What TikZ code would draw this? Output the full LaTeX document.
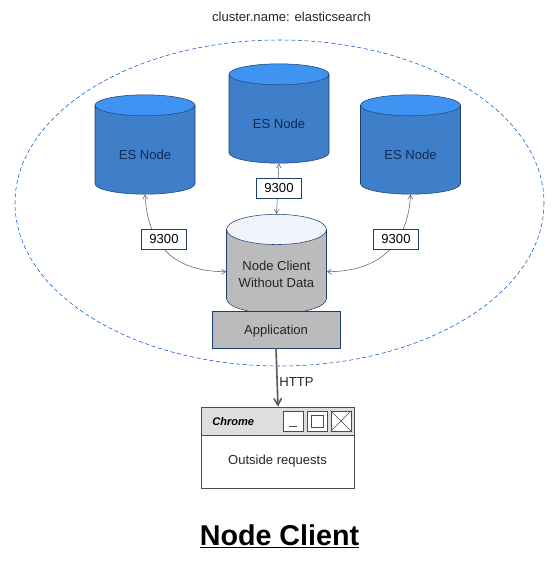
\documentclass[tikz,border=0pt]{standalone}
\usepackage{fontspec}
\setmainfont{Liberation Sans}
\usetikzlibrary{arrows}
\usetikzlibrary{shapes.geometric}
\definecolor{esblue}{HTML}{3F7FCA}
\definecolor{estop}{HTML}{3F93F2}
\definecolor{esline}{HTML}{1C3F73}
\definecolor{estext}{HTML}{0F2A50}
\definecolor{clientgray}{HTML}{BBBBBB}
\definecolor{clienttop}{HTML}{F1F4FA}
\definecolor{linkgray}{HTML}{5A5E64}
\tikzset{
  dbnode/.style={shape=cylinder, shape border rotate=90, shape aspect=.4, draw=esline, inner sep=0, anchor=shape center,
    minimum width=75pt, minimum height=74.5pt, cylinder uses custom fill, font=\fontsize{9.8}{11.5}\selectfont, align=center},
  esnode/.style={dbnode, cylinder body fill=esblue, cylinder end fill=estop, text=estext, text height=14.5pt},
  clientnode/.style={dbnode, cylinder body fill=clientgray, cylinder end fill=clienttop, text=black!85},
  portbox/.style={draw=esline, fill=white, inner sep=0, minimum width=34pt, minimum height=15pt, font=\fontsize{9.8}{11.5}\selectfont},
  link/.style={draw=linkgray, <->, >=angle 60},
  winbtn/.style={draw=black!70, semithick, fill=white, inner sep=0, minimum width=15pt, minimum height=15pt}
}
\begin{document}
\begin{tikzpicture}[x=.75pt, y=-.75pt]
    \useasboundingbox (0,0) rectangle (560,568);
    \node[font=\fontsize{9.8}{11.5}\selectfont, text=black!85] (clustername) at (291.5,17) {cluster.name: elasticsearch};
    \draw[draw=blue!60!cyan!80!black, densely dashed] (279.5,203) ellipse (264.5 and 163);
    % the nodes of the cluster
    \node[esnode] (esleft) at (145,144.5) {ES Node};
    \node[esnode] (esmid) at (279,113.5) {ES Node};
    \node[esnode] (esright) at (410.5,144.5) {ES Node};
    \node[clientnode] (client) at (276.5,264) {\rule{0pt}{11pt}Node Client\\[.6pt]Without Data};
    \node[draw=esline, fill=clientgray, inner sep=0, minimum width=96pt, minimum height=27.5pt,
      font=\fontsize{9.8}{11.5}\selectfont, text=black!85, text height=9pt] (app) at (276,329.5) {Application};
    % transport links
    \draw[link] (esleft.south) .. controls +(2,41) and +(-61,0) .. (client.west);
    \draw[link] (esright.south) .. controls +(-2,41) and +(61,0) .. (client.east);
    \draw[link] (esmid.south) -- (client.north);
    \node[portbox] (portleft) at (164,239) {9300};
    \node[portbox] (portmid) at (279,188) {9300};
    \node[portbox] (portright) at (396,239) {9300};
    % browser window
    \node[draw=black!70, semithick, fill=white, inner sep=0, minimum width=114.75pt, minimum height=60.75pt] (window) at (278,447.5) {};
    \node[draw=black!70, semithick, fill=black!13, inner sep=0, minimum width=114.75pt, minimum height=21pt] (titlebar) at (278,421) {};
    \node[font=\fontsize{8.3}{10}\selectfont\bfseries\itshape, anchor=west, inner sep=0] (chrome) at (212,421.5) {Chrome};
    \node[winbtn] (btnmin) at (293,421) {};
    \node[winbtn] (btnmax) at (317,421) {};
    \node[winbtn] (btnclose) at (341,421) {};
    \draw[black!70, semithick] (289,426.5) -- (297,426.5);
    \draw[black!70] (311,415) rectangle (323,427);
    \draw[black!70] (btnclose.north west) -- (btnclose.south east);
    \draw[black!70] (btnclose.north east) -- (btnclose.south west);
    \node[font=\fontsize{9.8}{11.5}\selectfont, text=black!85] (outside) at (277.5,461) {Outside requests};
    \draw[black!65, very thick, ->, >=angle 60] (app.south) -- (window.north);
    \node[font=\fontsize{9.8}{11.5}\selectfont, text=black!85] (http) at (296.5,382) {HTTP};
    \node[font=\fontsize{21.5}{25}\selectfont\bfseries] (title) at (279.5,536.5) {\underline{Node Client}};
\end{tikzpicture}
\end{document}
